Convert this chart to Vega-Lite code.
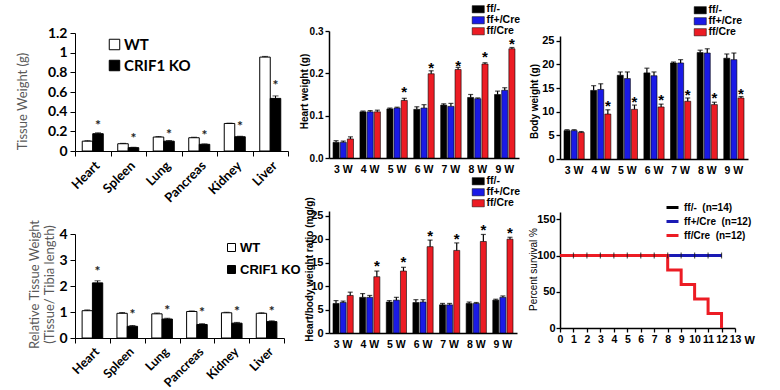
{
  "$schema": "https://vega.github.io/schema/vega-lite/v6.json",
  "background": "white",
  "padding": {"left": 15, "top": 4, "right": 5, "bottom": 5},
  "columns": 3,
  "spacing": {"row": 52, "column": 41},
  "bounds": "flush",
  "align": "each",
  "resolve": {"scale": {"color": "independent", "xOffset": "independent", "x": "independent", "y": "independent"}, "legend": {"color": "independent"}, "axis": {"x": "independent", "y": "independent"}},
  "config": {
    "view": {"stroke": null},
    "font": "Liberation Sans",
    "axis": {"grid": false, "labelOverlap": false, "domainColor": "#000000", "tickColor": "#000000", "labelColor": "#000000", "titleColor": "#000000", "domainWidth": 1.3, "tickWidth": 1.3},
    "legend": {"padding": 0, "titlePadding": 0}
  },
  "datasets": {
    "organs": [
      {"organ": "Heart", "group": "WT", "tw": 0.10, "twHi": 0.105, "rel": 1.05, "relHi": 1.08},
      {"organ": "Heart", "group": "CRIF1 KO", "tw": 0.176, "twHi": 0.185, "twStar": 0.285, "rel": 2.12, "relHi": 2.2, "relStar": 2.65},
      {"organ": "Spleen", "group": "WT", "tw": 0.074, "twHi": 0.078, "rel": 0.95, "relHi": 0.98},
      {"organ": "Spleen", "group": "CRIF1 KO", "tw": 0.034, "twHi": 0.038, "twStar": 0.153, "rel": 0.45, "relHi": 0.48, "relStar": 1.0},
      {"organ": "Lung", "group": "WT", "tw": 0.142, "twHi": 0.147, "rel": 0.93, "relHi": 0.96},
      {"organ": "Lung", "group": "CRIF1 KO", "tw": 0.10, "twHi": 0.106, "twStar": 0.193, "rel": 0.73, "relHi": 0.76, "relStar": 1.16},
      {"organ": "Pancreas", "group": "WT", "tw": 0.135, "twHi": 0.14, "rel": 1.02, "relHi": 1.04},
      {"organ": "Pancreas", "group": "CRIF1 KO", "tw": 0.068, "twHi": 0.072, "twStar": 0.183, "rel": 0.52, "relHi": 0.55, "relStar": 1.06},
      {"organ": "Kidney", "group": "WT", "tw": 0.28, "twHi": 0.283, "rel": 0.97, "relHi": 0.99},
      {"organ": "Kidney", "group": "CRIF1 KO", "tw": 0.145, "twHi": 0.15, "twStar": 0.275, "rel": 0.57, "relHi": 0.6, "relStar": 1.1},
      {"organ": "Liver", "group": "WT", "tw": 0.955, "twHi": 0.962, "rel": 0.95, "relHi": 0.97},
      {"organ": "Liver", "group": "CRIF1 KO", "tw": 0.535, "twHi": 0.56, "twStar": 0.69, "rel": 0.63, "relHi": 0.66, "relStar": 1.12}
    ],
    "weeks": [
      {"week": "3 W", "grp": "ff/-", "hw": 0.037, "hwHi": 0.041, "ratio": 6.3, "ratioHi": 6.9, "bw": 6.0, "bwHi": 6.2},
      {"week": "3 W", "grp": "ff+/Cre", "hw": 0.037, "hwHi": 0.040, "ratio": 6.5, "ratioHi": 6.8, "bw": 6.0, "bwHi": 6.2},
      {"week": "3 W", "grp": "ff/Cre", "hw": 0.045, "hwHi": 0.050, "ratio": 8.0, "ratioHi": 8.7, "bw": 5.6, "bwHi": 5.8},
      {"week": "4 W", "grp": "ff/-", "hw": 0.109, "hwHi": 0.111, "ratio": 7.6, "ratioHi": 8.4, "bw": 14.5, "bwHi": 15.5},
      {"week": "4 W", "grp": "ff+/Cre", "hw": 0.109, "hwHi": 0.112, "ratio": 7.6, "ratioHi": 8.0, "bw": 14.7, "bwHi": 15.9},
      {"week": "4 W", "grp": "ff/Cre", "hw": 0.109, "hwHi": 0.113, "ratio": 12.0, "ratioHi": 13.2, "ratioStar": 15.2, "bw": 9.5, "bwHi": 10.4, "bwStar": 12.0},
      {"week": "5 W", "grp": "ff/-", "hw": 0.116, "hwHi": 0.118, "ratio": 6.6, "ratioHi": 6.9, "bw": 17.7, "bwHi": 18.4},
      {"week": "5 W", "grp": "ff+/Cre", "hw": 0.118, "hwHi": 0.120, "ratio": 7.0, "ratioHi": 7.6, "bw": 17.0, "bwHi": 18.4},
      {"week": "5 W", "grp": "ff/Cre", "hw": 0.136, "hwHi": 0.141, "hwStar": 0.165, "ratio": 13.2, "ratioHi": 14.0, "ratioStar": 16.0, "bw": 10.5, "bwHi": 11.4, "bwStar": 12.8},
      {"week": "6 W", "grp": "ff/-", "hw": 0.115, "hwHi": 0.121, "ratio": 6.5, "ratioHi": 7.1, "bw": 18.2, "bwHi": 19.2},
      {"week": "6 W", "grp": "ff+/Cre", "hw": 0.118, "hwHi": 0.126, "ratio": 6.6, "ratioHi": 7.1, "bw": 17.6, "bwHi": 18.4},
      {"week": "6 W", "grp": "ff/Cre", "hw": 0.199, "hwHi": 0.206, "hwStar": 0.222, "ratio": 18.4, "ratioHi": 19.8, "ratioStar": 21.5, "bw": 11.0, "bwHi": 11.6, "bwStar": 13.3},
      {"week": "7 W", "grp": "ff/-", "hw": 0.125, "hwHi": 0.128, "ratio": 6.0, "ratioHi": 6.3, "bw": 20.3, "bwHi": 20.5},
      {"week": "7 W", "grp": "ff+/Cre", "hw": 0.122, "hwHi": 0.129, "ratio": 6.0, "ratioHi": 6.3, "bw": 20.3, "bwHi": 21.0},
      {"week": "7 W", "grp": "ff/Cre", "hw": 0.209, "hwHi": 0.214, "hwStar": 0.227, "ratio": 17.6, "ratioHi": 19.2, "ratioStar": 20.9, "bw": 12.2, "bwHi": 12.9, "bwStar": 14.4},
      {"week": "8 W", "grp": "ff/-", "hw": 0.143, "hwHi": 0.150, "ratio": 6.3, "ratioHi": 6.6, "bw": 22.5, "bwHi": 23.0},
      {"week": "8 W", "grp": "ff+/Cre", "hw": 0.140, "hwHi": 0.142, "ratio": 6.3, "ratioHi": 6.5, "bw": 22.4, "bwHi": 23.3},
      {"week": "8 W", "grp": "ff/Cre", "hw": 0.222, "hwHi": 0.225, "hwStar": 0.248, "ratio": 19.5, "ratioHi": 21.0, "ratioStar": 22.7, "bw": 11.5, "bwHi": 12.0, "bwStar": 13.8},
      {"week": "9 W", "grp": "ff/-", "hw": 0.150, "hwHi": 0.158, "ratio": 7.0, "ratioHi": 7.2, "bw": 21.3, "bwHi": 22.2},
      {"week": "9 W", "grp": "ff+/Cre", "hw": 0.160, "hwHi": 0.166, "ratio": 7.6, "ratioHi": 7.9, "bw": 21.0, "bwHi": 22.4},
      {"week": "9 W", "grp": "ff/Cre", "hw": 0.258, "hwHi": 0.261, "hwStar": 0.279, "ratio": 20.0, "ratioHi": 20.4, "ratioStar": 22.1, "bw": 12.9, "bwHi": 13.2, "bwStar": 14.6}
    ],
    "surv": [
      {"series": "ff/-\u00a0\u00a0(n=14)", "week": 0, "pct": 100},
      {"series": "ff/-\u00a0\u00a0(n=14)", "week": 12, "pct": 100},
      {"series": "ff+/Cre\u00a0\u00a0(n=12)", "week": 0, "pct": 100},
      {"series": "ff+/Cre\u00a0\u00a0(n=12)", "week": 12, "pct": 100},
      {"series": "ff/Cre\u00a0\u00a0(n=12)", "week": 0, "pct": 100},
      {"series": "ff/Cre\u00a0\u00a0(n=12)", "week": 8, "pct": 80},
      {"series": "ff/Cre\u00a0\u00a0(n=12)", "week": 9, "pct": 60},
      {"series": "ff/Cre\u00a0\u00a0(n=12)", "week": 10, "pct": 40},
      {"series": "ff/Cre\u00a0\u00a0(n=12)", "week": 11, "pct": 20},
      {"series": "ff/Cre\u00a0\u00a0(n=12)", "week": 12, "pct": 0}
    ],
    "censor": [
      {"week": 1, "pct": 100}, {"week": 2, "pct": 100}, {"week": 3, "pct": 100}, {"week": 4, "pct": 100},
      {"week": 5, "pct": 100}, {"week": 6, "pct": 100}, {"week": 7, "pct": 100}, {"week": 8, "pct": 100},
      {"week": 9, "pct": 100}, {"week": 10, "pct": 100}, {"week": 11, "pct": 100}, {"week": 12, "pct": 100}
    ]
  },
  "concat": [
    {
      "width": 213, "height": 120,
      "data": {"name": "organs"},
      "encoding": {
        "x": {"field": "organ", "type": "nominal", "sort": ["Heart", "Spleen", "Lung", "Pancreas", "Kidney", "Liver"], "scale": {"paddingInner": 0, "paddingOuter": 0},
          "axis": {"title": null, "labelAngle": -45, "labelFont": "Lato", "labelFontWeight": "bold", "labelFontSize": 13, "tickBand": "extent", "tickSize": 5, "labelPadding": 3, "domainWidth": 1, "tickWidth": 1}},
        "xOffset": {"field": "group", "type": "nominal", "sort": ["WT", "CRIF1 KO"], "scale": {"paddingInner": 0, "paddingOuter": 0.69}}
      },
      "layer": [
        {"mark": {"type": "bar", "stroke": "#000000", "strokeWidth": 1},
          "encoding": {
            "y": {"field": "tw", "type": "quantitative", "title": "Tissue Weight (g)", "scale": {"domain": [0, 1.2], "range": [120, 2]},
              "axis": {"values": [0, 0.2, 0.4, 0.6, 0.8, 1, 1.2], "tickCount": 50, "labelOverlap": false, "format": "~g", "labelFont": "Lato", "labelFontWeight": "bold", "labelFontSize": 14, "tickSize": 5, "labelPadding": 3, "domainWidth": 1, "tickWidth": 1,
                "titleFont": "Lato", "titleFontWeight": "normal", "titleFontSize": 13, "titleColor": "#595959", "titleX": -46, "titleY": 70}},
            "color": {"field": "group", "type": "nominal", "scale": {"domain": ["WT", "CRIF1 KO"], "range": ["#ffffff", "#000000"]},
              "legend": {"orient": "none", "legendX": 32, "legendY": 6, "title": null, "symbolType": "square", "symbolSize": 110, "symbolStrokeColor": "#000000", "symbolStrokeWidth": 1, "labelFont": "Lato", "labelFontSize": 15, "labelFontWeight": "bold", "labelColor": "#000000", "rowPadding": 5, "labelOffset": 2}}
          }},
        {"mark": {"type": "rule", "color": "#000000", "strokeWidth": 1},
          "encoding": {"y": {"field": "tw", "type": "quantitative", "title": "Tissue Weight (g)"}, "y2": {"field": "twHi"}}},
        {"mark": {"type": "tick", "orient": "horizontal", "size": 6, "thickness": 1, "color": "#000000"},
          "encoding": {"y": {"field": "twHi", "type": "quantitative", "title": "Tissue Weight (g)"}}},
        {"transform": [{"filter": "isValid(datum.twStar)"}],
          "mark": {"type": "text", "text": "*", "font": "Lato", "fontSize": 14, "fontWeight": "bold", "baseline": "middle", "dy": 3, "color": "#222222"},
          "encoding": {"y": {"field": "twStar", "type": "quantitative", "title": "Tissue Weight (g)"}}}
      ]
    },
    {
      "width": 190, "height": 127,
      "data": {"name": "weeks"},
      "encoding": {
        "x": {"field": "week", "type": "nominal", "sort": ["3 W", "4 W", "5 W", "6 W", "7 W", "8 W", "9 W"], "scale": {"paddingInner": 0.24, "paddingOuter": 0.15},
          "axis": {"title": null, "labelAngle": 0, "ticks": false, "labelFont": "Liberation Sans", "labelFontWeight": "bold", "labelFontSize": 10.5, "labelPadding": 6, "domainWidth": 1.5}},
        "xOffset": {"field": "grp", "type": "nominal", "sort": ["ff/-", "ff+/Cre", "ff/Cre"], "scale": {"paddingInner": 0.15}}
      },
      "layer": [
        {"mark": {"type": "bar", "stroke": "#000000", "strokeWidth": 0.6},
          "encoding": {
            "y": {"field": "hw", "type": "quantitative", "title": "Heart weight (g)", "scale": {"domain": [0, 0.3]},
              "axis": {"values": [0, 0.1, 0.2, 0.3], "tickCount": 50, "labelOverlap": false, "format": ".1f", "labelFont": "Liberation Sans", "labelFontWeight": "bold", "labelFontSize": 10, "tickSize": 4, "labelPadding": 2, "domainWidth": 1.5,
                "titleFont": "Liberation Sans", "titleFontWeight": "bold", "titleFontSize": 10, "titleX": -20, "titleY": 60}},
            "color": {"field": "grp", "type": "nominal", "scale": {"domain": ["ff/-", "ff+/Cre", "ff/Cre"], "range": ["#000000", "#1a1ae6", "#ec1c24"]},
              "legend": {"orient": "none", "legendX": 144, "legendY": -27, "title": null, "symbolType": "M-1.35,-0.8H1.35V0.8H-1.35Z", "symbolSize": 81, "symbolStrokeColor": "#000000", "symbolStrokeWidth": 0.5, "labelFont": "Liberation Sans", "labelFontSize": 10.5, "labelFontWeight": "bold", "labelColor": "#000000", "rowPadding": -2.5, "labelOffset": 3}}
          }},
        {"mark": {"type": "rule", "color": "#000000", "strokeWidth": 1.2},
          "encoding": {"y": {"field": "hw", "type": "quantitative", "title": "Heart weight (g)"}, "y2": {"field": "hwHi"}}},
        {"mark": {"type": "tick", "orient": "horizontal", "size": 5, "thickness": 1.2, "color": "#000000"},
          "encoding": {"y": {"field": "hwHi", "type": "quantitative", "title": "Heart weight (g)"}}},
        {"transform": [{"filter": "isValid(datum.hwStar)"}],
          "mark": {"type": "text", "text": "*", "font": "Liberation Sans", "fontSize": 15, "fontWeight": "bold", "baseline": "middle", "dy": 4, "color": "#000000"},
          "encoding": {"y": {"field": "hwStar", "type": "quantitative", "title": "Heart weight (g)"}}}
      ]
    },
    {
      "width": 188, "height": 128,
      "data": {"name": "weeks"},
      "encoding": {
        "x": {"field": "week", "type": "nominal", "sort": ["3 W", "4 W", "5 W", "6 W", "7 W", "8 W", "9 W"], "scale": {"paddingInner": 0.24, "paddingOuter": 0.15},
          "axis": {"title": null, "labelAngle": 0, "ticks": false, "labelFont": "Liberation Sans", "labelFontWeight": "bold", "labelFontSize": 10.5, "labelPadding": 6, "domainWidth": 1.5}},
        "xOffset": {"field": "grp", "type": "nominal", "sort": ["ff/-", "ff+/Cre", "ff/Cre"], "scale": {"paddingInner": 0.15}}
      },
      "layer": [
        {"mark": {"type": "bar", "stroke": "#000000", "strokeWidth": 0.6},
          "encoding": {
            "y": {"field": "bw", "type": "quantitative", "title": "Body weight (g)", "scale": {"domain": [0, 25], "range": [128, 5]},
              "axis": {"values": [0, 5, 10, 15, 20, 25], "tickCount": 50, "format": "d", "labelOverlap": false, "labelFont": "Liberation Sans", "labelFontWeight": "bold", "labelFontSize": 11, "tickSize": 4, "labelPadding": 2, "domainWidth": 1.5,
                "titleFont": "Liberation Sans", "titleFontWeight": "bold", "titleFontSize": 10, "titleX": -21, "titleY": 70}},
            "color": {"field": "grp", "type": "nominal", "scale": {"domain": ["ff/-", "ff+/Cre", "ff/Cre"], "range": ["#000000", "#1a1ae6", "#ec1c24"]},
              "legend": {"orient": "none", "legendX": 135, "legendY": -26, "title": null, "symbolType": "M-1.35,-0.8H1.35V0.8H-1.35Z", "symbolSize": 81, "symbolStrokeColor": "#000000", "symbolStrokeWidth": 0.5, "labelFont": "Liberation Sans", "labelFontSize": 10.5, "labelFontWeight": "bold", "labelColor": "#000000", "rowPadding": -2.5, "labelOffset": 3}}
          }},
        {"mark": {"type": "rule", "color": "#000000", "strokeWidth": 1.2},
          "encoding": {"y": {"field": "bw", "type": "quantitative", "title": "Body weight (g)"}, "y2": {"field": "bwHi"}}},
        {"mark": {"type": "tick", "orient": "horizontal", "size": 5, "thickness": 1.2, "color": "#000000"},
          "encoding": {"y": {"field": "bwHi", "type": "quantitative", "title": "Body weight (g)"}}},
        {"transform": [{"filter": "isValid(datum.bwStar)"}],
          "mark": {"type": "text", "text": "*", "font": "Liberation Sans", "fontSize": 15, "fontWeight": "bold", "baseline": "middle", "dy": 4, "color": "#000000"},
          "encoding": {"y": {"field": "bwStar", "type": "quantitative", "title": "Body weight (g)"}}}
      ]
    },
    {
      "width": 209, "height": 127,
      "data": {"name": "organs"},
      "encoding": {
        "x": {"field": "organ", "type": "nominal", "sort": ["Heart", "Spleen", "Lung", "Pancreas", "Kidney", "Liver"], "scale": {"paddingInner": 0, "paddingOuter": 0},
          "axis": {"title": null, "labelAngle": -45, "labelFont": "Lato", "labelFontWeight": "bold", "labelFontSize": 12.5, "tickBand": "extent", "tickSize": 5, "labelPadding": 2, "domainWidth": 1, "tickWidth": 1}},
        "xOffset": {"field": "group", "type": "nominal", "sort": ["WT", "CRIF1 KO"], "scale": {"paddingInner": 0, "paddingOuter": 0.69}}
      },
      "layer": [
        {"mark": {"type": "bar", "stroke": "#000000", "strokeWidth": 1},
          "encoding": {
            "y": {"field": "rel", "type": "quantitative", "title": ["Relative Tissue Weight", "(Tissue/ Tibia length)"], "scale": {"domain": [0, 4], "range": [127, 23]},
              "axis": {"values": [0, 1, 2, 3, 4], "tickCount": 50, "format": "d", "labelOverlap": false, "labelFont": "Lato", "labelFontWeight": "bold", "labelFontSize": 14, "tickSize": 5, "labelPadding": 3, "domainWidth": 1, "tickWidth": 1,
                "titleFont": "Lato", "titleFontWeight": "normal", "titleFontSize": 13, "titleLineHeight": 15, "titleColor": "#595959", "titleX": -34, "titleY": 73}},
            "color": {"field": "group", "type": "nominal", "scale": {"domain": ["WT", "CRIF1 KO"], "range": ["#ffffff", "#000000"]},
              "legend": {"orient": "none", "legendX": 150, "legendY": 30, "title": null, "symbolType": "square", "symbolSize": 64, "symbolStrokeColor": "#000000", "symbolStrokeWidth": 1, "labelFont": "Liberation Sans", "labelFontSize": 13, "labelFontWeight": "bold", "labelColor": "#000000", "rowPadding": 8, "labelOffset": 2}}
          }},
        {"mark": {"type": "rule", "color": "#000000", "strokeWidth": 1},
          "encoding": {"y": {"field": "rel", "type": "quantitative", "title": ["Relative Tissue Weight", "(Tissue/ Tibia length)"]}, "y2": {"field": "relHi"}}},
        {"mark": {"type": "tick", "orient": "horizontal", "size": 6, "thickness": 1, "color": "#000000"},
          "encoding": {"y": {"field": "relHi", "type": "quantitative", "title": ["Relative Tissue Weight", "(Tissue/ Tibia length)"]}}},
        {"transform": [{"filter": "isValid(datum.relStar)"}],
          "mark": {"type": "text", "text": "*", "font": "Lato", "fontSize": 14, "fontWeight": "bold", "baseline": "middle", "dy": 3, "color": "#222222"},
          "encoding": {"y": {"field": "relStar", "type": "quantitative", "title": ["Relative Tissue Weight", "(Tissue/ Tibia length)"]}}}
      ]
    },
    {
      "width": 188, "height": 122,
      "data": {"name": "weeks"},
      "encoding": {
        "x": {"field": "week", "type": "nominal", "sort": ["3 W", "4 W", "5 W", "6 W", "7 W", "8 W", "9 W"], "scale": {"paddingInner": 0.24, "paddingOuter": 0.15},
          "axis": {"title": null, "labelAngle": 0, "ticks": false, "labelFont": "Liberation Sans", "labelFontWeight": "bold", "labelFontSize": 10.5, "labelPadding": 6, "domainWidth": 1.5}},
        "xOffset": {"field": "grp", "type": "nominal", "sort": ["ff/-", "ff+/Cre", "ff/Cre"], "scale": {"paddingInner": 0.15}}
      },
      "layer": [
        {"mark": {"type": "bar", "stroke": "#000000", "strokeWidth": 0.6},
          "encoding": {
            "y": {"field": "ratio", "type": "quantitative", "title": "Heart/body weight ratio (mg/g)", "scale": {"domain": [0, 25]},
              "axis": {"values": [0, 5, 10, 15, 20, 25], "tickCount": 50, "format": "d", "labelOverlap": false, "labelFont": "Liberation Sans", "labelFontWeight": "bold", "labelFontSize": 11, "tickSize": 4, "labelPadding": 2, "domainWidth": 1.5,
                "titleFont": "Liberation Sans", "titleFontWeight": "bold", "titleFontSize": 10, "titleX": -15, "titleY": 58}},
            "color": {"field": "grp", "type": "nominal", "scale": {"domain": ["ff/-", "ff+/Cre", "ff/Cre"], "range": ["#000000", "#1a1ae6", "#ec1c24"]},
              "legend": {"orient": "none", "legendX": 144, "legendY": -35, "title": null, "symbolType": "M-1.35,-0.8H1.35V0.8H-1.35Z", "symbolSize": 81, "symbolStrokeColor": "#000000", "symbolStrokeWidth": 0.5, "labelFont": "Liberation Sans", "labelFontSize": 10.5, "labelFontWeight": "bold", "labelColor": "#000000", "rowPadding": -2.5, "labelOffset": 3}}
          }},
        {"mark": {"type": "rule", "color": "#000000", "strokeWidth": 1.2},
          "encoding": {"y": {"field": "ratio", "type": "quantitative", "title": "Heart/body weight ratio (mg/g)"}, "y2": {"field": "ratioHi"}}},
        {"mark": {"type": "tick", "orient": "horizontal", "size": 5, "thickness": 1.2, "color": "#000000"},
          "encoding": {"y": {"field": "ratioHi", "type": "quantitative", "title": "Heart/body weight ratio (mg/g)"}}},
        {"transform": [{"filter": "isValid(datum.ratioStar)"}],
          "mark": {"type": "text", "text": "*", "font": "Liberation Sans", "fontSize": 15, "fontWeight": "bold", "baseline": "middle", "dy": 4, "color": "#000000"},
          "encoding": {"y": {"field": "ratioStar", "type": "quantitative", "title": "Heart/body weight ratio (mg/g)"}}}
      ]
    },
    {
      "width": 175, "height": 117,
      "layer": [
        {"data": {"name": "surv"},
          "mark": {"type": "line", "interpolate": "step-after", "strokeWidth": 3},
          "encoding": {
            "x": {"field": "week", "type": "quantitative", "title": "W", "scale": {"domain": [0, 13], "nice": false},
              "axis": {"values": [0, 1, 2, 3, 4, 5, 6, 7, 8, 9, 10, 11, 12, 13], "tickCount": 50, "format": "d", "labelOverlap": false, "labelFont": "Liberation Sans", "labelFontWeight": "bold", "labelFontSize": 10.5, "labelAngle": 0, "tickSize": 4, "labelPadding": 2, "domainWidth": 1.5, "labelFlush": false,
                "titleFont": "Liberation Sans", "titleFontWeight": "bold", "titleFontSize": 11, "titleX": 184, "titleY": 6, "titleAlign": "left", "titleBaseline": "top"}},
            "y": {"field": "pct", "type": "quantitative", "title": "Percent survival %", "scale": {"domain": [0, 150], "range": [117, 1]},
              "axis": {"values": [0, 50, 100, 150], "tickCount": 50, "format": "d", "labelOverlap": false, "labelFont": "Liberation Sans", "labelFontWeight": "bold", "labelFontSize": 11, "tickSize": 4, "labelPadding": 1, "domainWidth": 1.5,
                "titleFont": "Liberation Sans", "titleFontWeight": "normal", "titleFontSize": 10, "titleX": -22, "titleY": 58}},
            "color": {"field": "series", "type": "nominal", "sort": null, "scale": {"domain": ["ff/-\u00a0\u00a0(n=14)", "ff+/Cre\u00a0\u00a0(n=12)", "ff/Cre\u00a0\u00a0(n=12)"], "range": ["#000000", "#1a1ab4", "#ec1c24"]},
              "legend": {"orient": "none", "legendX": 105, "legendY": -11, "title": null, "symbolType": "stroke", "symbolSize": 144, "symbolStrokeWidth": 3, "labelFont": "Liberation Sans", "labelFontSize": 10, "labelFontWeight": "bold", "labelColor": "#000000", "rowPadding": -2, "labelOffset": 4}}
          }},
        {"data": {"name": "censor"},
          "mark": {"type": "tick", "orient": "vertical", "size": 6, "thickness": 1.2, "color": "#111111"},
          "encoding": {
            "x": {"field": "week", "type": "quantitative", "title": "W"},
            "y": {"field": "pct", "type": "quantitative", "title": "Percent survival %"}
          }}
      ]
    }
  ]
}
